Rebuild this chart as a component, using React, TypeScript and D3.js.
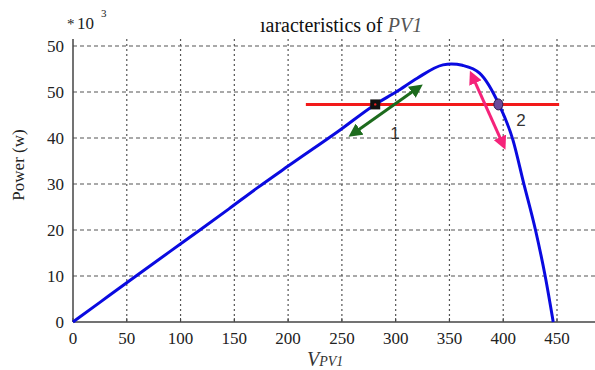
import React from "react";
import * as d3 from "d3";

const voltage = [0, 25, 58.6, 90, 118, 145, 171, 200, 248, 281, 301, 320, 344, 352, 362, 378, 396, 409, 419, 430, 439, 446.5];
const power = [0, 4.27, 10, 15.3, 20, 24.6, 29.1, 33.9, 41.7, 47.3, 50.1, 53, 55.9, 56.1, 55.8, 54.1, 47.3, 39.6, 30.2, 20, 10, 0];

const xTicks = [0, 50, 100, 150, 200, 250, 300, 350, 400, 450];
const xTickLabels = ["0", "50", "100", "150", "200", "250", "300", "350", "400", "450"];
const yTicks = [0, 10, 20, 30, 40, 50, 60];
const yTickLabels = ["0", "10", "20", "30", "40", "50", "50"];

const refPower = 47.3;
const refVStart = 216.5;
const refVEnd = 452;
const point1 = { v: 281, p: 47.3 };
const point2 = { v: 395.5, p: 47.3 };
const arrow1 = [{ v: 261.3, p: 41.1 }, { v: 320.1, p: 50.8 }];
const arrow2 = [{ v: 371.6, p: 53.3 }, { v: 399.5, p: 38.8 }];
const label1 = { v: 299.4, p: 41.1, text: "1" };
const label2 = { v: 416.5, p: 43.9, text: "2" };

export default function App() {
  const W = 595, H = 370;
  const x = d3.scaleLinear().domain([0, 450]).range([73, 557]);
  const y = d3.scaleLinear().domain([0, 60]).range([322, 46]);
  const line = d3
    .line<number>()
    .x((_, i) => x(voltage[i]))
    .y((d) => y(d))
    .curve(d3.curveMonotoneX);
  const serif: React.CSSProperties = { fontFamily: "'Liberation Serif', 'DejaVu Serif', serif" };
  const sans: React.CSSProperties = { fontFamily: "'Liberation Sans', Arial, sans-serif" };
  const gridTop = 39;
  const gridColor = "#555";

  const arrowLine = (a: { v: number; p: number }[], color: string, id: string) => (
    <line
      x1={x(a[0].v)} y1={y(a[0].p)} x2={x(a[1].v)} y2={y(a[1].p)}
      stroke={color} strokeWidth={3}
      markerStart={`url(#${id})`} markerEnd={`url(#${id})`}
    />
  );

  return (
    <svg width={W} height={H} style={{ position: "absolute", left: 0, top: 0, background: "#fff" }}>
      <defs>
        <marker id="ag" viewBox="0 0 10 10" refX="5" refY="5" markerWidth="4.5" markerHeight="4.5" orient="auto-start-reverse">
          <path d="M0,0 L10,5 L0,10 z" fill="#1d6b1d" />
        </marker>
        <marker id="ap" viewBox="0 0 10 10" refX="5" refY="5" markerWidth="4.5" markerHeight="4.5" orient="auto-start-reverse">
          <path d="M0,0 L10,5 L0,10 z" fill="#f5237a" />
        </marker>
      </defs>
      {/* horizontal grid */}
      {yTicks.filter((t) => t > 0).map((t) => (
        <line key={"hg" + t} x1={x(0)} x2={W} y1={y(t)} y2={y(t)} stroke={gridColor} strokeWidth={1.2} strokeDasharray="4,3" />
      ))}
      {/* vertical grid */}
      {xTicks.filter((t) => t > 0).map((t) => (
        <line key={"vg" + t} x1={x(t)} x2={x(t)} y1={gridTop} y2={y(0)} stroke={gridColor} strokeWidth={1.2} strokeDasharray="2,3" />
      ))}
      {/* axes */}
      <line x1={x(0)} x2={x(0)} y1={gridTop} y2={y(0)} stroke="#444" strokeWidth={1.5} />
      <line x1={x(0)} x2={W} y1={y(0)} y2={y(0)} stroke="#444" strokeWidth={1.5} />
      {xTicks.map((t) => (
        <line key={"xt" + t} x1={x(t)} x2={x(t)} y1={y(0)} y2={y(0) - 4} stroke="#444" strokeWidth={1} />
      ))}
      {/* tick labels */}
      {yTicks.map((t, i) => (
        <text key={"yl" + t} x={64} y={y(t)} dy="0.35em" textAnchor="end" style={serif} fontSize={17} fill="#222">
          {yTickLabels[i]}
        </text>
      ))}
      {xTicks.map((t, i) => (
        <text key={"xl" + t} x={x(t)} y={344} textAnchor="middle" style={serif} fontSize={17} fill="#222">
          {xTickLabels[i]}
        </text>
      ))}
      {/* multiplier */}
      <text x={67} y={29} style={serif} fontSize={15} fill="#222">*</text>
      <text x={77} y={29} style={serif} fontSize={17} fill="#222">10</text>
      <text x={101} y={17} style={serif} fontSize={11} fill="#222">3</text>
      {/* title */}
      <text x={260} y={32} style={serif} fontSize={20} fill="#111">
        ıaracteristics of <tspan fontStyle="italic" fill="#555">PV1</tspan>
      </text>
      {/* axis labels */}
      <text transform={`translate(24,165) rotate(-90)`} textAnchor="middle" style={serif} fontSize={17} fill="#222">
        Power (w)
      </text>
      <text x={307} y={366} style={serif} fontStyle="italic" fill="#333">
        <tspan fontSize={20}>V</tspan>
        <tspan fontSize={14}>PV1</tspan>
      </text>
      {/* reference line */}
      <line x1={x(refVStart)} x2={x(refVEnd)} y1={y(refPower)} y2={y(refPower)} stroke="#f21a1a" strokeWidth={3} />
      {/* PV curve */}
      <path d={line(power) || ""} fill="none" stroke="#0a0ae0" strokeWidth={3} />
      {/* arrows */}
      {arrowLine(arrow1, "#1d6b1d", "ag")}
      {arrowLine(arrow2, "#f5237a", "ap")}
      {/* markers */}
      <rect x={x(point1.v) - 5} y={y(point1.p) - 5} width={10} height={10} fill="#111" />
      <circle cx={x(point1.v)} cy={y(point1.p)} r={1.2} fill="#e22" />
      <ellipse cx={x(point2.v)} cy={y(point2.p)} rx={4.5} ry={5.5} fill="#6a4c9c" stroke="#2a1a4a" strokeWidth={1} />
      {/* labels */}
      <text x={x(label1.v)} y={y(label1.p)} dy="0.35em" textAnchor="middle" style={sans} fontSize={17} fill="#333">{label1.text}</text>
      <text x={x(label2.v)} y={y(label2.p)} dy="0.35em" textAnchor="middle" style={sans} fontSize={17} fill="#333">{label2.text}</text>
    </svg>
  );
}
